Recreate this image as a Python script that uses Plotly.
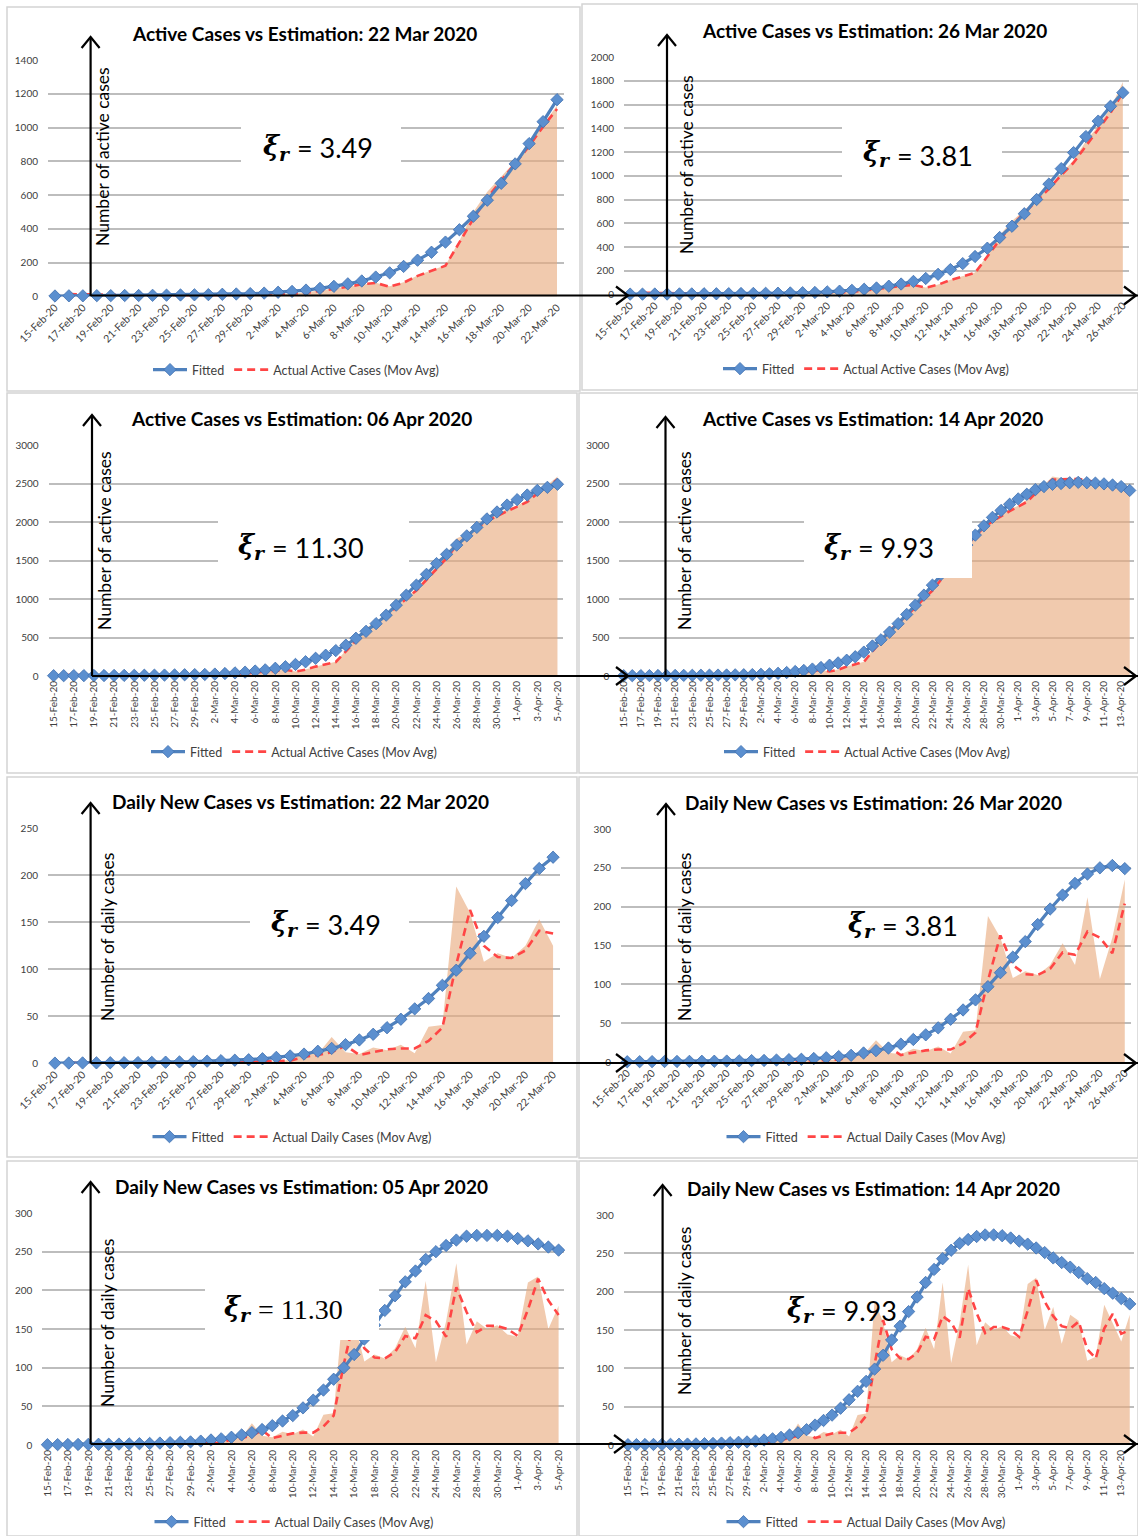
import plotly.graph_objects as go
import pandas as pd

W, H = 1138, 1536
FONT = "Lato, 'Open Sans', sans-serif"

# ---------------- categories ----------------
dates = [f"{d.day}-{d.strftime('%b')}-{d.strftime('%y')}" for d in pd.date_range("2020-02-15", "2020-04-14")]

# ---------------- data ----------------
active_area = [10, 12, 14, 11, 9, 8, 8, 7, 6, 6, 6, 7, 8, 9, 10,
               12, 14, 18, 25, 36, 50, 62, 72, 82, 60, 85, 125, 155, 185, 330,
               500, 620, 710, 800, 905, 1020, 1130, 1290, 1420, 1570, 1790, 1840, 1950, 2040, 2100, 2170,
               2210, 2290, 2400, 2480, 2590, 2570, 2550, 2570, 2540, 2520, 2500, 2480, 2460, 2430]
active_mavg = [None, 14, 15, 12, 10, 8, 8, 7, 6, 6, 6, 7, 8, 9, 10,
               11, 13, 16, 22, 32, 45, 58, 72, 80, 58, 82, 122, 152, 182, 320,
               460, 585, 685, 785, 890, 1005, 1110, 1250, 1390, 1530, 1700, 1820, 1930, 2010, 2080, 2140,
               2200, 2260, 2370, 2460, 2550, 2555, 2555, 2560, 2540, 2520, 2490, 2470, 2460, 2440]
daily_area = [0, 1, 0, 0, 0, 0, 0, 0, 0, 0, 0, 1, 2, 1, 2,
              3, 2, 4, 12, 10, 28, 12, 10, 17, 14, 20, 11, 39, 41, 188,
              160, 108, 117, 112, 125, 153, 125, 212, 107, 160, 235, 130, 160, 150, 155, 143,
              140, 210, 218, 150, 180, 132, 170, 162, 110, 115, 183, 160, 135, 170]
daily_mavg = [None, 1, 1, 0.5, 0, 0, 0, 0, 0, 0, 0, 0.5, 1, 1.5, 2,
              2, 2.5, 3, 7, 9, 12, 19, 9, 12, 15, 16, 16, 24, 38, 105,
              163, 125, 113, 112, 120, 141, 138, 168, 160, 140, 204, 172, 146, 154, 154, 150,
              141, 175, 215, 187, 168, 155, 152, 161, 125, 113, 152, 171, 145, 150]

fit_active_22mar = [3, 4, 4, 5, 5, 6, 6, 7, 8, 9, 10, 11, 13, 15, 17, 20, 25, 30, 38, 48,
                    60, 75, 92, 115, 140, 178, 215, 262, 322, 395, 475, 570, 670, 785, 905, 1035, 1165]
fit_active_26mar = [3, 3, 4, 4, 5, 5, 6, 6, 7, 8, 9, 10, 11, 13, 15, 17, 22, 28, 35, 44,
                    55, 70, 88, 110, 135, 170, 210, 260, 320, 390, 480, 575, 680, 800, 930, 1060, 1195, 1330, 1460, 1585,
                    1700]
fit_active_06apr = [4, 4, 5, 5, 6, 6, 7, 8, 9, 10, 11, 12, 14, 16, 18, 20, 25, 32, 40, 50,
                    65, 80, 100, 120, 150, 185, 230, 270, 330, 400, 490, 580, 680, 790, 920, 1050, 1180, 1320, 1460, 1580,
                    1700, 1820, 1930, 2040, 2130, 2220, 2290, 2350, 2410, 2450, 2490]
fit_active_14apr = [4, 4, 5, 5, 6, 6, 7, 8, 9, 10, 11, 12, 13, 15, 16, 18, 22, 28, 35, 45,
                    58, 72, 90, 110, 140, 170, 205, 250, 310, 390, 470, 570, 680, 800, 920, 1050, 1180, 1320, 1450, 1580,
                    1700, 1830, 1950, 2060, 2150, 2230, 2300, 2360, 2420, 2460, 2490, 2500, 2510, 2515, 2510, 2505, 2495, 2480, 2460, 2410]
fit_daily_22mar = [0.4, 0.5, 0.6, 0.7, 0.8, 0.9, 1, 1.2, 1.4, 1.7, 2, 2.5, 3, 3.5, 4, 5, 6.5, 8, 10, 13,
                   16, 20, 25, 31, 38, 47, 58, 69, 83, 99, 117, 135, 155, 173, 191, 207, 219]
fit_daily_26mar = [0.3, 0.4, 0.5, 0.6, 0.7, 0.8, 0.9, 1, 1.2, 1.5, 1.8, 2, 2.5, 3, 3.5, 4.5, 5.5, 7, 8.6, 11.6,
                   14.6, 18, 23, 29, 35, 44, 55, 67, 80, 97, 115, 135, 155, 177, 197, 215, 230, 242, 250, 253,
                   249]
fit_daily_05apr = [0.4, 0.5, 0.6, 0.7, 0.8, 0.9, 1, 1.2, 1.4, 1.7, 2, 2.5, 3, 3.5, 4, 5, 6.5, 8, 10, 13,
                   16, 20, 25, 31, 38, 48, 58, 71, 85, 100, 117, 137, 155, 174, 193, 211, 225, 240, 250, 258,
                   265, 270, 271, 271, 271, 270, 267, 264, 260, 256, 252]
fit_daily_14apr = [0.4, 0.5, 0.6, 0.7, 0.8, 0.9, 1, 1.2, 1.4, 1.7, 2, 2.5, 3, 3.5, 4, 5, 6.5, 8, 10, 13,
                   16, 20, 26, 32, 39, 48, 59, 70, 83, 99, 117, 137, 155, 174, 193, 212, 229, 243, 254, 263,
                   268, 272, 274, 274, 273, 270, 266, 262, 257, 251, 244, 238, 232, 225, 217, 212, 204, 198, 191, 184]

titles = ["Active Cases vs Estimation: 22 Mar 2020", "Active Cases vs Estimation: 26 Mar 2020",
          "Active Cases vs Estimation: 06 Apr 2020", "Active Cases vs Estimation: 14 Apr 2020",
          "Daily New Cases vs Estimation: 22 Mar 2020", "Daily New Cases vs Estimation: 26 Mar 2020",
          "Daily New Cases vs Estimation: 05 Apr 2020", "Daily New Cases vs Estimation: 14 Apr 2020"]
xi_values = ["3.49", "3.81", "11.30", "9.93", "3.49", "3.81", "11.30", "9.93"]

# ---------------- layout config (pixels) ----------------
# xi_xy = (x where "ξr" ends / "= value" begins, y centre)
panels = [
    dict(kind="active", fit=fit_active_22mar, ymax=1400, dtick=200, xdom=(48, 564), ydom=(60, 296.5), tick=-45,
         title_xy=(304, 33), ytitle_xy=(103, 157), legend_xy=(296, 370), arrow=(90.6, 37, 296), xi_xy=(293, 148),
         box=(241, 105, 401, 185), border=(7, 7, 580, 391), serif=False),
    dict(kind="active", fit=fit_active_26mar, ymax=2000, dtick=200, xdom=(624, 1129), ydom=(57, 294.5), tick=-45,
         title_xy=(874, 30), ytitle_xy=(686, 165), legend_xy=(866, 369), arrow=(667, 35, 295), xi_xy=(893, 155),
         box=(842, 115, 1002, 190), border=(582, 4, 1138, 390), serif=False),
    dict(kind="active", fit=fit_active_06apr, ymax=3000, dtick=500, xdom=(48.6, 562.5), ydom=(445, 676), tick=-90,
         title_xy=(301, 418), ytitle_xy=(104, 541), legend_xy=(294, 752), arrow=(92, 415, 676), xi_xy=(268, 547),
         box=(218, 500, 409, 585), border=(7, 393, 577, 773), serif=False),
    dict(kind="active", fit=fit_active_14apr, ymax=3000, dtick=500, xdom=(619.4, 1134), ydom=(445, 676), tick=-90,
         title_xy=(872, 418), ytitle_xy=(684, 541), legend_xy=(867, 752), arrow=(665.5, 417, 676), xi_xy=(854, 547),
         box=(804, 498, 972, 578), border=(579, 393, 1138, 773), serif=False),
    dict(kind="daily", fit=fit_daily_22mar, ymax=250, dtick=50, xdom=(48, 560), ydom=(828, 1063.5), tick=-45,
         title_xy=(300, 801), ytitle_xy=(107, 937), legend_xy=(292, 1137), arrow=(90.6, 803, 1063), xi_xy=(301, 924),
         box=(250, 895, 409, 950), border=(7, 777, 577, 1157), serif=False),
    dict(kind="daily", fit=fit_daily_26mar, ymax=300, dtick=50, xdom=(621, 1131), ydom=(829, 1062), tick=-45,
         title_xy=(873, 802), ytitle_xy=(684, 937), legend_xy=(866, 1137), arrow=(666, 804, 1063), xi_xy=(878, 925),
         box=None, border=(579, 777, 1138, 1158), serif=False),
    dict(kind="daily", fit=fit_daily_05apr, ymax=300, dtick=50, xdom=(42.3, 563.7), ydom=(1213, 1445), tick=-90,
         title_xy=(302, 1186), ytitle_xy=(107, 1323), legend_xy=(294, 1522), arrow=(90.6, 1182, 1444), xi_xy=(254, 1309),
         box=(205, 1268, 379, 1340), border=(7, 1161, 577, 1536), serif=True),
    dict(kind="daily", fit=fit_daily_14apr, ymax=300, dtick=50, xdom=(623.7, 1134), ydom=(1215, 1445), tick=-90,
         title_xy=(873, 1188), ytitle_xy=(684, 1311), legend_xy=(866, 1522), arrow=(662.6, 1185, 1444), xi_xy=(817, 1310),
         box=None, border=(579, 1161, 1138, 1536), serif=False),
]
rows = [(295.5, 90.6, [628, 1136]), (676, 92, [628, 1136]), (1063, 90.6, [628, 1136]), (1444, 90.6, [626, 1136])]

BLUE = "#4F81BD"
RED = "#FF4545"
FILL = "rgba(232,170,125,0.62)"


def fx(x):
    return x / W


def fy(y):
    return 1 - y / H


fig = go.Figure()
layout = dict(width=W, height=H, margin=dict(l=0, r=0, t=0, b=0, pad=0, autoexpand=False), autosize=False,
              template="none",
              paper_bgcolor="white", plot_bgcolor="rgba(0,0,0,0)", showlegend=True,
              font=dict(family=FONT, color="#404040"), hovermode=False)
annotations = []
shapes = []

for i, p in enumerate(panels):
    k = i + 1
    sx = "" if k == 1 else str(k)
    n = len(p["fit"])
    cats = dates[:n]
    if p["kind"] == "active":
        area, mavg, actual_name, ytitle = active_area, active_mavg, "Actual Active Cases (Mov Avg)", "Number of active cases"
    else:
        area, mavg, actual_name, ytitle = daily_area, daily_mavg, "Actual Daily Cases (Mov Avg)", "Number of daily cases"
    leg = "legend" + sx

    fig.add_trace(go.Scatter(x=cats, y=area[:n], xaxis="x" + sx, yaxis="y" + sx, mode="lines",
                             line=dict(width=0, color=FILL), fill="tozeroy", fillcolor=FILL,
                             showlegend=False, hoverinfo="skip"))
    fig.add_trace(go.Scatter(x=cats, y=mavg[:n], xaxis="x" + sx, yaxis="y" + sx, mode="lines",
                             line=dict(color=RED, width=2.6, dash="8px,5px"), name=actual_name,
                             legend=leg, legendrank=2, cliponaxis=False))
    fig.add_trace(go.Scatter(x=cats, y=p["fit"], xaxis="x" + sx, yaxis="y" + sx, mode="lines+markers",
                             line=dict(color=BLUE, width=3.2),
                             marker=dict(symbol="diamond", size=9.5, color="#5B8FCF",
                                         line=dict(color="#3F6FAE", width=0.8)),
                             name="Fitted", legend=leg, legendrank=1, cliponaxis=False))

    tfs = 10.5 if p["tick"] == -45 else 10
    layout["xaxis" + sx] = dict(domain=[fx(p["xdom"][0]), fx(p["xdom"][1])], anchor="y" + sx,
                                type="category", categoryorder="array", categoryarray=cats,
                                range=[-0.5, n - 0.5], tickmode="array", tickvals=cats[::2], ticktext=cats[::2],
                                tickangle=p["tick"], tickfont=dict(size=tfs, color="#404040", family=FONT),
                                showgrid=False, zeroline=False, showline=False, ticks="", fixedrange=True,
                                automargin=False, ticklabelstandoff=2)
    layout["yaxis" + sx] = dict(domain=[fy(p["ydom"][1]), fy(p["ydom"][0])], anchor="x" + sx,
                                range=[0, p["ymax"]], dtick=p["dtick"], tick0=0,
                                tickfont=dict(size=10, color="#404040", family=FONT),
                                showgrid=True, gridcolor="#BDBDBD", gridwidth=1.6, zeroline=False,
                                showline=False, ticks="", ticklabelstandoff=9, fixedrange=True,
                                automargin=False)
    layout[leg] = dict(x=fx(p["legend_xy"][0]), y=fy(p["legend_xy"][1]), xanchor="center", yanchor="middle",
                       orientation="h", font=dict(size=12.5, family=FONT, color="#404040"),
                       bgcolor="rgba(0,0,0,0)", itemwidth=34, traceorder="normal")

    # panel border
    bx0, by0, bx1, by1 = p["border"]
    shapes.append(dict(type="rect", xref="paper", yref="paper", x0=fx(bx0), x1=fx(bx1), y0=fy(by1), y1=fy(by0),
                       line=dict(color="#D4D4D4", width=1.5), fillcolor="rgba(0,0,0,0)", layer="above"))

    # title
    annotations.append(dict(text="<b>" + titles[i] + "</b>", x=fx(p["title_xy"][0]), y=fy(p["title_xy"][1]),
                            xref="paper", yref="paper", xanchor="center", yanchor="middle", showarrow=False,
                            font=dict(size=19, family=FONT, color="black")))
    # y title
    annotations.append(dict(text=ytitle, x=fx(p["ytitle_xy"][0]), y=fy(p["ytitle_xy"][1]), textangle=-90,
                            xref="paper", yref="paper", xanchor="center", yanchor="middle", showarrow=False,
                            font=dict(size=17.5, family=FONT, color="black")))
    # white box behind xi label
    if p["box"]:
        x0, y0, x1, y1 = p["box"]
        shapes.append(dict(type="rect", xref="paper", yref="paper", x0=fx(x0), x1=fx(x1), y0=fy(y1), y1=fy(y0),
                           line=dict(width=0), fillcolor="white", layer="above"))
    # xi label: symbol part + value part
    xx, xy = p["xi_xy"]
    annotations.append(dict(text="<b><i>ξ</i></b><sub><b><i>r</i></b></sub>", x=fx(xx), y=fy(xy - 1),
                            xref="paper", yref="paper", xanchor="right", yanchor="middle", showarrow=False,
                            font=dict(size=27, family="DejaVu Serif", color="black")))
    num_font = "Liberation Serif" if p["serif"] else "Lato"
    annotations.append(dict(text="= " + xi_values[i], x=fx(xx + 2), y=fy(xy), xref="paper", yref="paper",
                            xanchor="left", yanchor="middle", showarrow=False,
                            font=dict(size=28 if p["serif"] else 27, family=num_font, color="black")))
    # vertical arrow
    ax, tip, base = p["arrow"]
    shapes.append(dict(type="line", xref="paper", yref="paper", x0=fx(ax), x1=fx(ax), y0=fy(base), y1=fy(tip),
                       line=dict(color="black", width=2.2), layer="above"))
    shapes.append(dict(type="path", xref="paper", yref="paper",
                       path=f"M {fx(ax-9)},{fy(tip+11)} L {fx(ax)},{fy(tip)} L {fx(ax+9)},{fy(tip+11)}",
                       line=dict(color="black", width=2.2), layer="above"))

# horizontal arrows
for y, x0, heads in rows:
    shapes.append(dict(type="line", xref="paper", yref="paper", x0=fx(x0), x1=fx(W), y0=fy(y), y1=fy(y),
                       line=dict(color="black", width=2.2), layer="above"))
    for hx in heads:
        shapes.append(dict(type="path", xref="paper", yref="paper",
                           path=f"M {fx(hx-12)},{fy(y-9)} L {fx(hx)},{fy(y)} L {fx(hx-12)},{fy(y+9)}",
                           line=dict(color="black", width=2.2), layer="above"))

layout["annotations"] = annotations
layout["shapes"] = shapes
fig.update_layout(**layout)
fig.write_html("out.html", config={"displayModeBar": False},
               post_script="document.body.style.margin='0px';document.body.style.overflow='hidden';")
